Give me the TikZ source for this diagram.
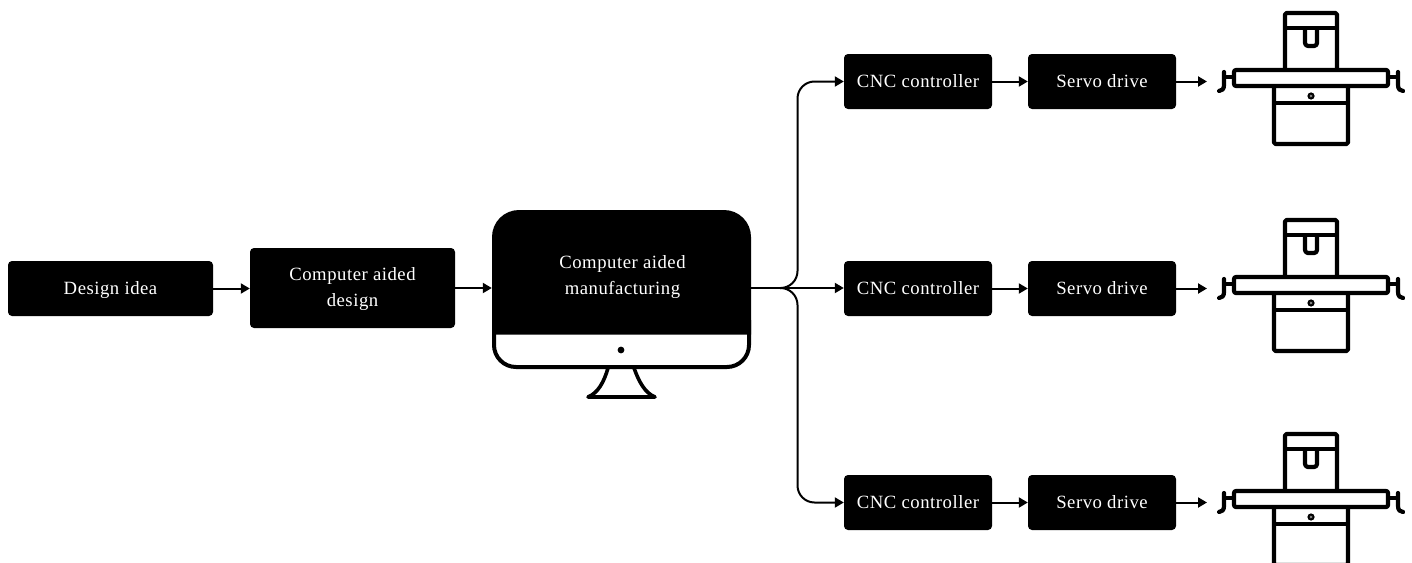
\documentclass[tikz,border=0pt]{standalone}
\usepackage{fontspec}
\setmainfont[LetterSpace=2.8]{Liberation Serif}
\usetikzlibrary{arrows.meta}
\definecolor{ink}{HTML}{000000}
\newcommand{\ts}{\rule[-4.6pt]{0pt}{20.6pt}}
\tikzset{
  x=1pt,y=-1pt,
  boxa/.style={fill=ink,rounded corners=4pt,text=white,align=center,inner sep=0pt,
    font=\fontsize{18.7}{26.5}\selectfont},
  small/.style={boxa,minimum width=148pt,minimum height=55pt},
  wide/.style={boxa,minimum width=205pt},
  conn/.style={line width=2pt,draw=ink,-{Triangle[length=9pt,width=10pt]}},
  branch/.style={line width=2pt,draw=ink,rounded corners=17pt,-{Triangle[length=9pt,width=10pt]}},
  mline/.style={line width=4.2pt,draw=ink,line join=round},
  pics/machine/.style={code={
    \draw[mline,rounded corners=1.5pt] (-26,70) -- (-26,13) -- (26,13) -- (26,70);
    \draw[mline] (-26,28) -- (26,28);
    \draw[mline,rounded corners=3pt] (-6,28) -- (-6,46) -- (6,46) -- (6,28);
    \draw[mline,rounded corners=1.5pt] (-37,86) -- (-37,144) -- (37,144) -- (37,86);
    \draw[mline] (-37,103) -- (37,103);
    \fill[ink] (0,96) circle (3.6pt);
    \draw[black!45,line width=.7pt] (-1.2,94.8) -- (1.2,97.2) (-1.2,97.2) -- (1.2,94.8);
    \draw[mline,rounded corners=2pt,fill=white] (-77,70) rectangle (77,86);
    \draw[mline] (-79,77) -- (-87,77) (79,77) -- (87,77);
    \draw[mline,line cap=round] (-87,72) -- (-87,85) .. controls (-87,89) and (-89,91) .. (-92,91);
    \draw[mline,line cap=round] (87,72) -- (87,85) .. controls (87,89) and (89,91) .. (92,91);
  }}
}
\begin{document}
\begin{tikzpicture}
\useasboundingbox (0,0) rectangle (1412,562);
\clip (0,0) rectangle (1412,562);
% nodes
\node[wide,minimum height=55pt] (idea) at (110.5,288.5) {\ts Design idea};
\node[wide,minimum height=80pt] (cad) at (352.5,288) {\ts Computer aided\\\ts design};
% monitor
\draw[line width=4pt,draw=ink,rounded corners=22pt] (494,320) -- (494,367) -- (749,367) -- (749,320);
\fill[ink] (492,334.5) -- (492,237) arc[start angle=180,end angle=90,radius=27pt] -- (724,210) arc[start angle=90,end angle=0,radius=27pt] -- (751,334.5) -- cycle;
\node[boxa,fill=none,minimum width=259pt,minimum height=124pt] (screen) at (621.5,272) {};
\node[boxa,fill=none] (camtext) at (622.5,276) {\ts Computer aided\\\ts manufacturing};
\fill[ink] (621,350) circle (3.4pt);
\draw[line width=3.6pt,draw=ink,line cap=round,line join=round] (608,368) .. controls (604,382) and (598,393) .. (588,397) -- (655,397) .. controls (645,393) and (639,382) .. (634,368);
% rows
\node[small] (cnca) at (918,81.5) {\ts CNC controller};
\node[small] (srva) at (1102,81.5) {\ts Servo drive};
\node[small] (cncb) at (918,288.5) {\ts CNC controller};
\node[small] (srvb) at (1102,288.5) {\ts Servo drive};
\node[small] (cncc) at (918,502.5) {\ts CNC controller};
\node[small] (srvc) at (1102,502.5) {\ts Servo drive};
\pic at (1311,0) {machine};
\pic at (1311,207) {machine};
\pic at (1311,421) {machine};
\coordinate (enda) at (1207,81.5);
\coordinate (endb) at (1207,288.5);
\coordinate (endc) at (1207,502.5);
\coordinate (hub) at (797.5,288);
% connectors
\draw[conn] (idea.east) -- (cad.west |- idea.east);
\draw[conn] (cad.east) -- (screen.west |- cad.east);
\draw[line width=2.8pt,draw=ink] (screen.east |- cad.east) -- (785,288);
\draw[conn] (780,288) -- (cncb.west |- 0,288);
\draw[branch] (780,288) -| (hub |- cnca.west) -- (cnca.west);
\draw[branch] (780,288) -| (hub |- cncc.west) -- (cncc.west);
\foreach \a/\b/\c in {cnca/srva/enda,cncb/srvb/endb,cncc/srvc/endc}{
  \draw[conn] (\a.east) -- (\b.west);
  \draw[conn] (\b.east) -- (\c);
}
\end{tikzpicture}
\end{document}
